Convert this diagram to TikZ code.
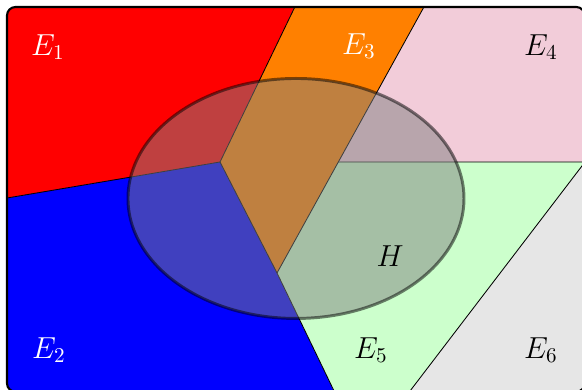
\documentclass[tikz,border=0pt]{standalone}
\usepackage{amsmath}
\usepackage{xcolor}
\usepackage{tikz}
\usetikzlibrary{calc}
\definecolor{setorange}{RGB}{255,128,0}
\definecolor{setpink}{RGB}{242,204,217}
\definecolor{setgreen}{RGB}{204,255,204}
\definecolor{setgray}{RGB}{230,230,230}

\begin{document}
\begin{tikzpicture}[every node/.style={font=\Large}, border/.style={draw=black, line width=0.4pt}]
            \useasboundingbox (0,0) rectangle (9.7,6.5);
            \coordinate (C) at (3.667,3.8);
            \coordinate (M) at (4.617,1.95);
            \coordinate (K) at (5.64,3.8);
            \coordinate (L) at (0,3.18);
            \coordinate (T1) at (4.97,6.5);
            \coordinate (T2) at (7.13,6.5);
            \coordinate (R) at (9.75,3.8);
            \coordinate (B1) at (5.608,-0.1);
            \coordinate (B2) at (6.77,-0.1);
            \begin{scope}
                \clip[rounded corners=4pt] (0.117,-0.03) rectangle (9.745,6.383);
                % the six regions
                \fill[red] (0,6.5) -- (T1) -- (C) -- (L) -- cycle;
                \fill[blue] (L) -- (C) -- (M) -- (B1) -- (0,-0.1) -- cycle;
                \fill[setorange] (T1) -- (T2) -- (M) -- (C) -- cycle;
                \fill[setpink] (T2) -- (9.9,6.5) -- (9.9,3.8) -- (R) -- (K) -- cycle;
                \fill[setgreen] (K) -- (R) -- (B2) -- (B1) -- (M) -- cycle;
                \fill[setgray] (R) -- (9.9,3.8) -- (9.9,-0.1) -- (B2) -- cycle;
                % borders between them
                \draw[border] (L) -- (C) -- (T1);
                \draw[border] (C) -- (M) -- (B1);
                \draw[border] (T2) -- (M);
                \draw[border] (K) -- (R) -- (B2);
            \end{scope}
            \draw[line width=1pt, rounded corners=4pt] (0.117,-0.03) rectangle (9.745,6.383);
            \draw[line width=1.4pt, fill=gray, opacity=0.5] (4.933,3.192) ellipse [x radius=2.8, y radius=2];
            \node[text=white] (E1) at (0.8,5.717) {$E_1$};
            \node[text=white] (E2) at (0.817,0.667) {$E_2$};
            \node[text=white] (E3) at (5.983,5.733) {$E_3$};
            \node (E4) at (9.017,5.717) {$E_4$};
            \node (E5) at (6.183,0.667) {$E_5$};
            \node (E6) at (9.017,0.667) {$E_6$};
            \node (H) at (6.5,2.233) {$H$};
        \end{tikzpicture}
\end{document}
